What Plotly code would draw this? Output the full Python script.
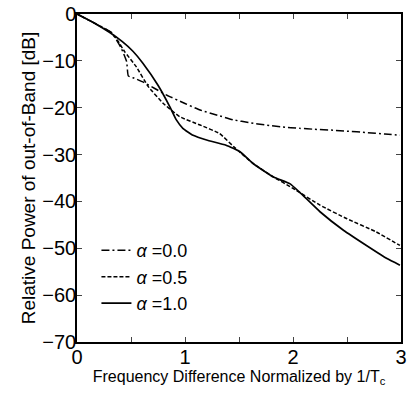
import plotly.graph_objects as go

x_a00 = [0, 0.15, 0.32, 0.41, 0.46, 0.475, 0.53, 0.61, 0.72, 0.83, 1.0, 1.14, 1.3, 1.45, 1.6, 1.75, 1.9, 2.06, 2.2, 2.37, 2.5, 2.68, 2.85, 2.99]
y_a00 = [0, -1.8, -4.0, -7.3, -10.2, -13.2, -13.7, -14.5, -15.9, -17.3, -19.1, -20.5, -21.6, -22.6, -23.2, -23.7, -24.1, -24.4, -24.6, -24.8, -25.0, -25.3, -25.6, -25.9]

x_a05 = [0, 0.15, 0.32, 0.38, 0.44, 0.55, 0.66, 0.80, 0.95, 1.14, 1.32, 1.45, 1.63, 1.82, 2.0, 2.25, 2.5, 2.77, 2.99]
y_a05 = [0, -1.8, -4.0, -5.8, -8.0, -11.3, -15.5, -19.1, -21.9, -23.7, -25.5, -28.3, -31.9, -34.8, -37.2, -40.8, -43.7, -46.5, -49.4]

x_a10 = [0, 0.15, 0.30, 0.42, 0.52, 0.61, 0.75, 0.86, 0.92, 0.98, 1.075, 1.2, 1.38, 1.51, 1.63, 1.82, 1.97, 2.06, 2.25, 2.47, 2.68, 2.87, 2.99]
y_a10 = [0, -1.8, -3.9, -5.9, -8.0, -10.5, -15.2, -19.8, -22.6, -24.4, -25.9, -26.9, -28.0, -29.4, -31.9, -34.8, -36.2, -38.0, -42.2, -46.2, -49.4, -52.2, -53.6]

labels = ["<i>α</i> =0.0", "<i>α</i> =0.5", "<i>α</i> =1.0"]

fig = go.Figure()
fig.add_trace(go.Scatter(x=x_a00, y=y_a00, mode="lines", name=labels[0],
                         line=dict(color="black", width=1.5, dash="8px,3px,2px,3px", shape="spline", smoothing=0.4)))
fig.add_trace(go.Scatter(x=x_a05, y=y_a05, mode="lines", name=labels[1],
                         line=dict(color="black", width=1.5, dash="4px,2px", shape="spline", smoothing=0.4)))
fig.add_trace(go.Scatter(x=x_a10, y=y_a10, mode="lines", name=labels[2],
                         line=dict(color="black", width=1.7, shape="spline", smoothing=0.4)))

font_family = "Liberation Sans, Arial, sans-serif"
fig.update_layout(
    width=409, height=394,
    margin=dict(l=77, r=8, t=14, b=52),
    paper_bgcolor="white", plot_bgcolor="white",
    font=dict(family=font_family, color="black", size=20),
    showlegend=True,
    legend=dict(x=0.06, y=0.335, xanchor="left", yanchor="top", bgcolor="rgba(0,0,0,0)",
                font=dict(size=18), tracegroupgap=0, itemwidth=30),
    xaxis=dict(range=[0, 3], dtick=1, tick0=0, ticks="inside", ticklen=5, tickwidth=1.2,
               showline=True, linecolor="black", linewidth=1.5, mirror="ticks",
               showgrid=False, zeroline=False, automargin=False, ticklabelstandoff=-4,
               minor=dict(dtick=0.5, ticks="inside", ticklen=5, tickwidth=1.2, showgrid=False),
               title=dict(text="Frequency Difference Normalized by 1/T<sub>c</sub>", font=dict(size=16), standoff=0)),
    yaxis=dict(range=[-70, 0], dtick=10, ticks="inside", ticklen=5, tickwidth=1.2,
               showline=True, linecolor="black", linewidth=1.5, mirror="ticks",
               showgrid=False, zeroline=False, automargin=False, ticklabelstandoff=-5,
               title=dict(text="Relative Power of out-of-Band [dB]", font=dict(size=19), standoff=2)),
)

fig.write_html("out.html")
